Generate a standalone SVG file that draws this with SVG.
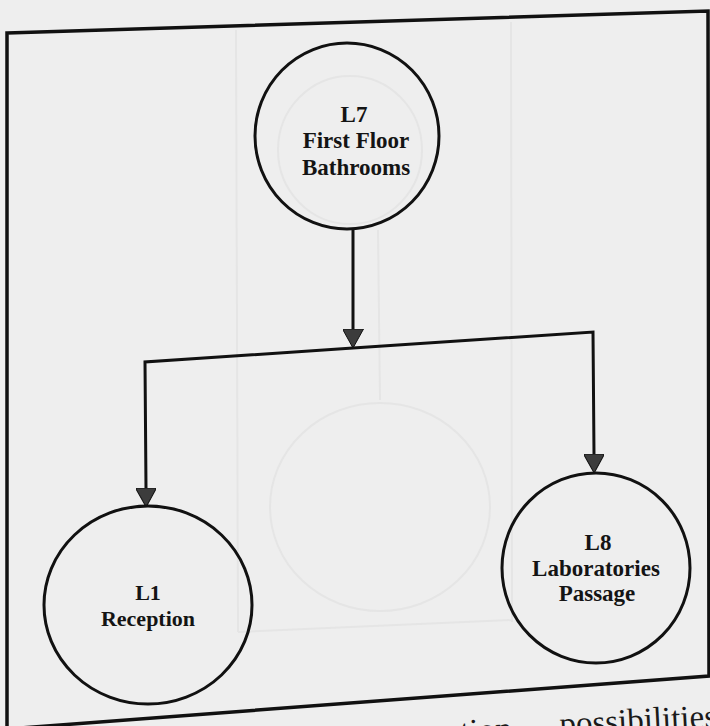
<svg xmlns="http://www.w3.org/2000/svg" width="710" height="726" viewBox="0 0 710 726">
  <style>
    .node { fill: none; stroke: #111; stroke-width: 3; }
    .label { font-family: "Liberation Serif", "Times New Roman", serif; font-weight: bold; font-size: 23px; fill: #141414; text-anchor: middle; }
    .wire { fill: none; stroke: #111; stroke-width: 3; stroke-linejoin: miter; }
    .ghost { fill: none; stroke: #e5e5e5; stroke-width: 2; }
    .caption { font-family: "Liberation Serif", "Times New Roman", serif; font-size: 33px; fill: #1a1a1a; }
  </style>
  <defs>
    <marker id="arrow" markerUnits="userSpaceOnUse" markerWidth="19" markerHeight="21" viewBox="0 0 19 21" refX="0" refY="10.5" orient="auto">
      <path d="M0,0 L19,10.5 L0,21 Z" fill="#3c3c3c" stroke="#111" stroke-width="1"/>
    </marker>
  </defs>

  <!-- paper -->
  <rect x="0" y="0" width="710" height="726" fill="#eeeeee"/>

  <!-- faint show-through lines from the reverse side -->
  <g id="show-through">
    <line class="ghost" x1="236" y1="30" x2="238" y2="632"/>
    <line class="ghost" x1="511" y1="22" x2="512" y2="622"/>
    <line class="ghost" x1="238" y1="632" x2="512" y2="620"/>
    <ellipse class="ghost" cx="380" cy="507" rx="110" ry="104"/>
    <ellipse class="ghost" cx="350" cy="150" rx="72" ry="74"/>
    <line class="ghost" x1="378" y1="230" x2="380" y2="400"/>
  </g>

  <!-- frame -->
  <polygon points="7,33 708,11 709,676 7,729" fill="none" stroke="#111" stroke-width="3.5"/>

  <!-- connectors -->
  <g id="connectors">
    <path class="wire" d="M353,229 L353,329" marker-end="url(#arrow)"/>
    <path class="wire" d="M353,348 L145,362 L146,488" marker-end="url(#arrow)"/>
    <path class="wire" d="M353,348 L593,332 L594,454" marker-end="url(#arrow)"/>
  </g>

  <!-- nodes -->
  <g id="L7">
    <ellipse class="node" cx="347" cy="136" rx="92" ry="93"/>
    <text class="label" x="354" y="122">L7</text>
    <text class="label" x="356" y="148">First Floor</text>
    <text class="label" x="356" y="175">Bathrooms</text>
  </g>

  <g id="L1">
    <ellipse class="node" cx="148" cy="605" rx="104" ry="99"/>
    <text class="label" x="148" y="600" style="font-size:22px">L1</text>
    <text class="label" x="148" y="626" style="font-size:22px">Reception</text>
  </g>

  <g id="L8">
    <ellipse class="node" cx="596" cy="568" rx="94" ry="95"/>
    <text class="label" x="598" y="550">L8</text>
    <text class="label" x="596" y="576">Laboratories</text>
    <text class="label" x="597" y="601">Passage</text>
  </g>

  <!-- caption below the frame, cut off by the page edge -->
  <text class="caption" transform="rotate(-3 560 735)"><tspan x="446" y="737">ction</tspan><tspan x="560" y="735">possibilities</tspan></text>
</svg>
